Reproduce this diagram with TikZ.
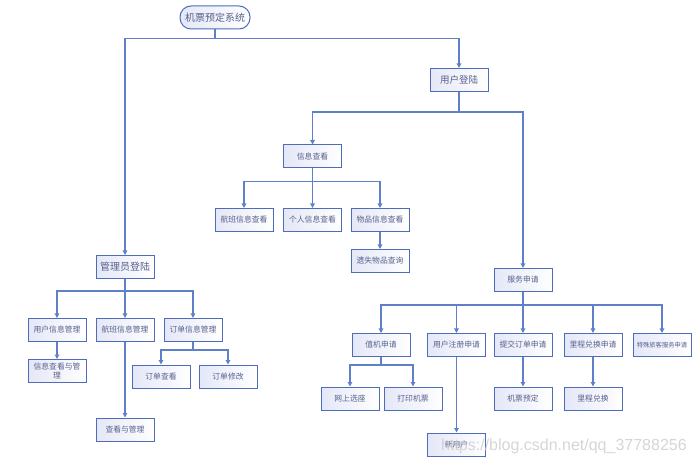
\documentclass[tikz,border=0pt]{standalone}
\usepackage{fontspec}
\setmainfont{Noto Sans CJK SC}
\newfontfamily\wmfont{Liberation Sans}
\usetikzlibrary{arrows.meta}
\definecolor{bordc}{RGB}{78,108,185}
\definecolor{linec}{RGB}{95,128,200}
\definecolor{txtc}{RGB}{88,96,140}
\definecolor{lav}{RGB}{228,231,247}
\tikzset{
  box/.style={draw=bordc, line width=1pt, left color=lav, right color=white,
    minimum width=58pt, minimum height=23pt, inner sep=1pt,
    font=\fontsize{7.8}{9}\selectfont, text=txtc, align=center},
  bigbox/.style={box, font=\fontsize{9.5}{11}\selectfont},
  conn/.style={draw=linec, line width=1.1pt, -{Triangle[width=4.5pt,length=4.5pt]}},
}
\begin{document}
\begin{tikzpicture}[x=1pt,y=-1pt]
\useasboundingbox[fill=white] (0,0) rectangle (694,465);
% nodes
\node[box, rounded corners=11pt, minimum width=70pt, font=\fontsize{10}{12}\selectfont] (root) at (215,17.5) {机票预定系统};
\node[bigbox] (user) at (459,80) {用户登陆};
\node[box] (info) at (312.5,156.5) {信息查看};
\node[box] (flight) at (244,220) {航班信息查看};
\node[box] (personal) at (312.5,220) {个人信息查看};
\node[box] (goods) at (380,220) {物品信息查看};
\node[box] (lost) at (380,261) {遗失物品查询};
\node[bigbox, font=\fontsize{10}{12}\selectfont] (admin) at (125,267) {管理员登陆};
\node[box] (umgr) at (57,330) {用户信息管理};
\node[box] (fmgr) at (125,330) {航班信息管理};
\node[box] (omgr) at (193,330) {订单信息管理};
\node[box, font=\fontsize{7.8}{9.5}\selectfont] (uview) at (57,371) {信息查看与管\\理};
\node[box] (oview) at (161,376.5) {订单查看};
\node[box] (omod) at (228,376.5) {订单修改};
\node[box] (fview) at (125,429.5) {查看与管理};
\node[box] (svc) at (523,280) {服务申请};
\node[box] (checkin) at (381,345) {值机申请};
\node[box] (reg) at (456.5,345) {用户注册申请};
\node[box] (order) at (523,345) {提交订单申请};
\node[box] (mile) at (593,345) {里程兑换申请};
\node[box, font=\fontsize{6.3}{7}\selectfont] (special) at (662,345) {特殊旅客服务申请};
\node[box] (seat) at (350,398.5) {网上选座};
\node[box] (print) at (413,398.5) {打印机票};
\node[box] (book) at (523,398.5) {机票预定};
\node[box] (mex) at (593,398.5) {里程兑换};
\node[box] (newu) at (456.5,444.5) {新用户};
% connectors
\draw[conn] (root.south) -- ++(0,9) -| (admin);
\draw[conn] (root.south) -- ++(0,9) -| (user);
\draw[conn] (user.south) -- ++(0,20) -| (info);
\draw[conn] (user.south) -- ++(0,20) -| (svc);
\draw[conn] (info.south) -- ++(0,13) -| (flight);
\draw[conn] (info.south) -- (personal);
\draw[conn] (info.south) -- ++(0,13) -| (goods);
\draw[conn] (goods) -- (lost);
\draw[conn] (admin.south) -- ++(0,12) -| (umgr);
\draw[conn] (admin) -- (fmgr);
\draw[conn] (admin.south) -- ++(0,12) -| (omgr);
\draw[conn] (umgr) -- (uview);
\draw[conn] (fmgr) -- (fview);
\draw[conn] (omgr.south) -- ++(0,8) -| (oview);
\draw[conn] (omgr.south) -- ++(0,8) -| (omod);
\draw[conn] (svc.south) -- ++(0,13) -| (checkin);
\draw[conn] (svc.south) -- ++(0,13) -| (reg);
\draw[conn] (svc) -- (order);
\draw[conn] (svc.south) -- ++(0,13) -| (mile);
\draw[conn] (svc.south) -- ++(0,13) -| (special);
\draw[conn] (checkin.south) -- ++(0,8) -| (seat);
\draw[conn] (checkin.south) -- ++(0,8) -| (print);
\draw[conn] (reg) -- (newu);
\draw[conn] (order) -- (book);
\draw[conn] (mile) -- (mex);
% watermark
\node[text=gray!40, opacity=0.8, font=\wmfont\fontsize{16}{18}\selectfont, anchor=west, inner sep=0] (wm) at (441,446) {https://blog.csdn.net/qq\_37788256};
\end{tikzpicture}
\end{document}
